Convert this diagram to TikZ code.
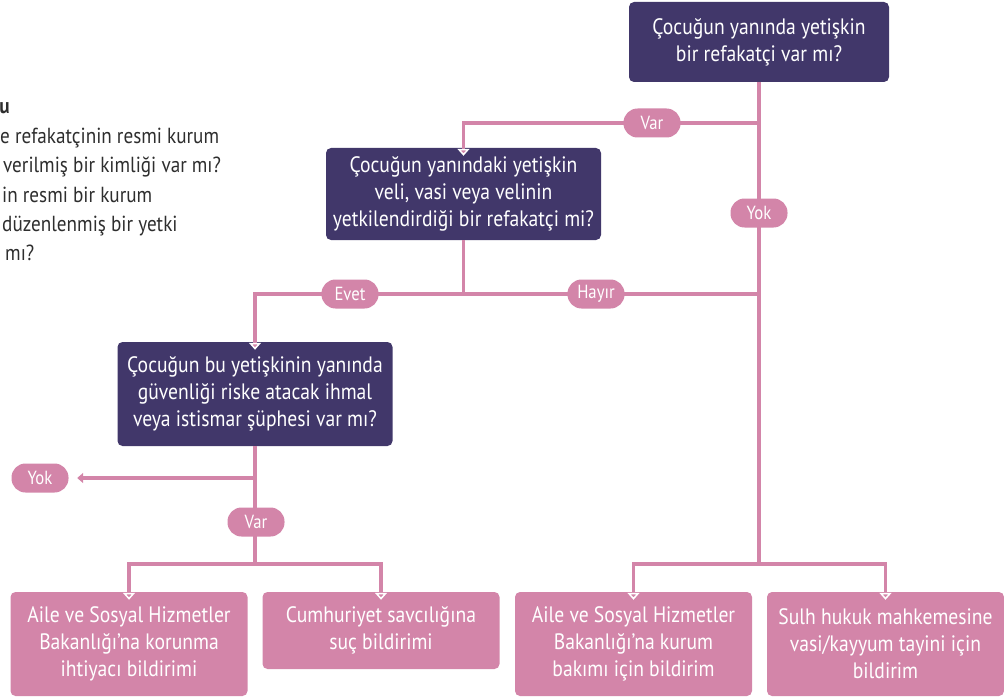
\documentclass[tikz,border=0pt]{standalone}
\usepackage{fontspec}
\setmainfont{PT Sans}[FakeStretch=0.88]
\usetikzlibrary{arrows.meta}
\definecolor{koyumor}{HTML}{41376A}
\definecolor{pembe}{HTML}{D385A9}
\definecolor{metin}{HTML}{2E2E2E}
\begin{document}
\begin{tikzpicture}[x=1pt,y=-1pt]

    \tikzset{
      soru/.style={
        fill=koyumor,
        text=white,
        rounded corners=5pt,
        align=center,
        inner sep=0pt,
        font=\fontsize{22.3}{27}\selectfont,
      },
      sonuc/.style={soru, fill=pembe, minimum width=237pt},
      etiket/.style={
        fill=pembe,
        text=white,
        rounded corners=14pt,
        minimum width=57pt,
        minimum height=29pt,
        inner sep=0pt,
        font=\fontsize{19}{22}\selectfont,
      },
      soltext/.style={text=metin, inner sep=0pt, font=\fontsize{21.8}{25}\selectfont},
      hat/.style={draw=pembe, line width=3.5pt},
      ok/.style={hat, shorten >=-8pt,
        -{Triangle[width=12pt,length=7pt,color=white,fill=pembe,line width=1.5pt]}},
    }
    \useasboundingbox (0,0) rectangle (1004,698);

    % cut text of the left panel
    \node[soltext, anchor=base east] (b0) at (10,114) {\textbf{u}};
    \node[soltext, anchor=base west] (b1) at (0,144) {e refakatçinin resmi kurum};
    \node[soltext, anchor=base west] (b2) at (3,172) {verilmiş bir kimliği var mı?};
    \node[soltext, anchor=base west] (b3) at (2,202) {in resmi bir kurum};
    \node[soltext, anchor=base west] (b4) at (2,231) {düzenlenmiş bir yetki};
    \node[soltext, anchor=base west] (b5) at (5,260) {mı?};

    % questions
    \node[soru, minimum width=260pt, minimum height=80pt] (q1) at (759,42)
      {Çocuğun yanında yetişkin\\bir refakatçi var mı?};
    \node[soru, minimum width=275pt, minimum height=92pt] (q2) at (463.5,194)
      {Çocuğun yanındaki yetişkin\\veli, vasi veya velinin\\yetkilendirdiği bir refakatçi mi?};
    \node[soru, minimum width=275pt, minimum height=104pt] (q3) at (255,394)
      {Çocuğun bu yetişkinin yanında\\güvenliği riske atacak ihmal\\veya istismar şüphesi var mı?};

    % results
    \node[sonuc, minimum height=104pt] (r1) at (129,644)
      {Aile ve Sosyal Hizmetler\\Bakanlığı’na korunma\\ihtiyacı bildirimi};
    \node[sonuc, minimum height=77pt] (r2) at (381,630.5)
      {Cumhuriyet savcılığına\\suç bildirimi};
    \node[sonuc, minimum height=104pt] (r3) at (633.5,644)
      {Aile ve Sosyal Hizmetler\\Bakanlığı’na kurum\\bakımı için bildirim};
    \node[sonuc, minimum height=104pt] (r4) at (885.5,644)
      {Sulh hukuk mahkemesine\\vasi/kayyum tayini için\\bildirim};

    \coordinate (ustkol) at (759,123);
    \coordinate (ortakol) at (759,294);
    \coordinate (sagkol) at (759,564);
    \coordinate (yokkol) at (255,478);
    \coordinate (solkol) at (255,564);

    \node[etiket] (e6) at (40,478) {Yok};

    % connectors
    \draw[hat] (q1.south) -- (sagkol);
    \draw[ok] (ustkol) -| (q2.north);
    \draw[hat] (q2.south) -- (q2.south |- ortakol);
    \draw[ok] (ortakol) -| (q3.north);
    \draw[hat] (q3.south) -- (solkol);
    \draw[hat, shorten >=8.5pt, -{Triangle[width=10pt,length=6pt]}] (yokkol) -- (e6.east);
    \draw[ok] (solkol) -| (r1.north);
    \draw[ok] (solkol) -| (r2.north);
    \draw[ok] (sagkol) -| (r3.north);
    \draw[ok] (sagkol) -| (r4.north);

    % answers
    \node[etiket] (e1) at (652,123) {Var};
    \node[etiket] (e2) at (759,213) {Yok};
    \node[etiket] (e3) at (350,294) {Evet};
    \node[etiket] (e4) at (596,294) {Hayır};
    \node[etiket] (e5) at (256,522) {Var};

\end{tikzpicture}
\end{document}
